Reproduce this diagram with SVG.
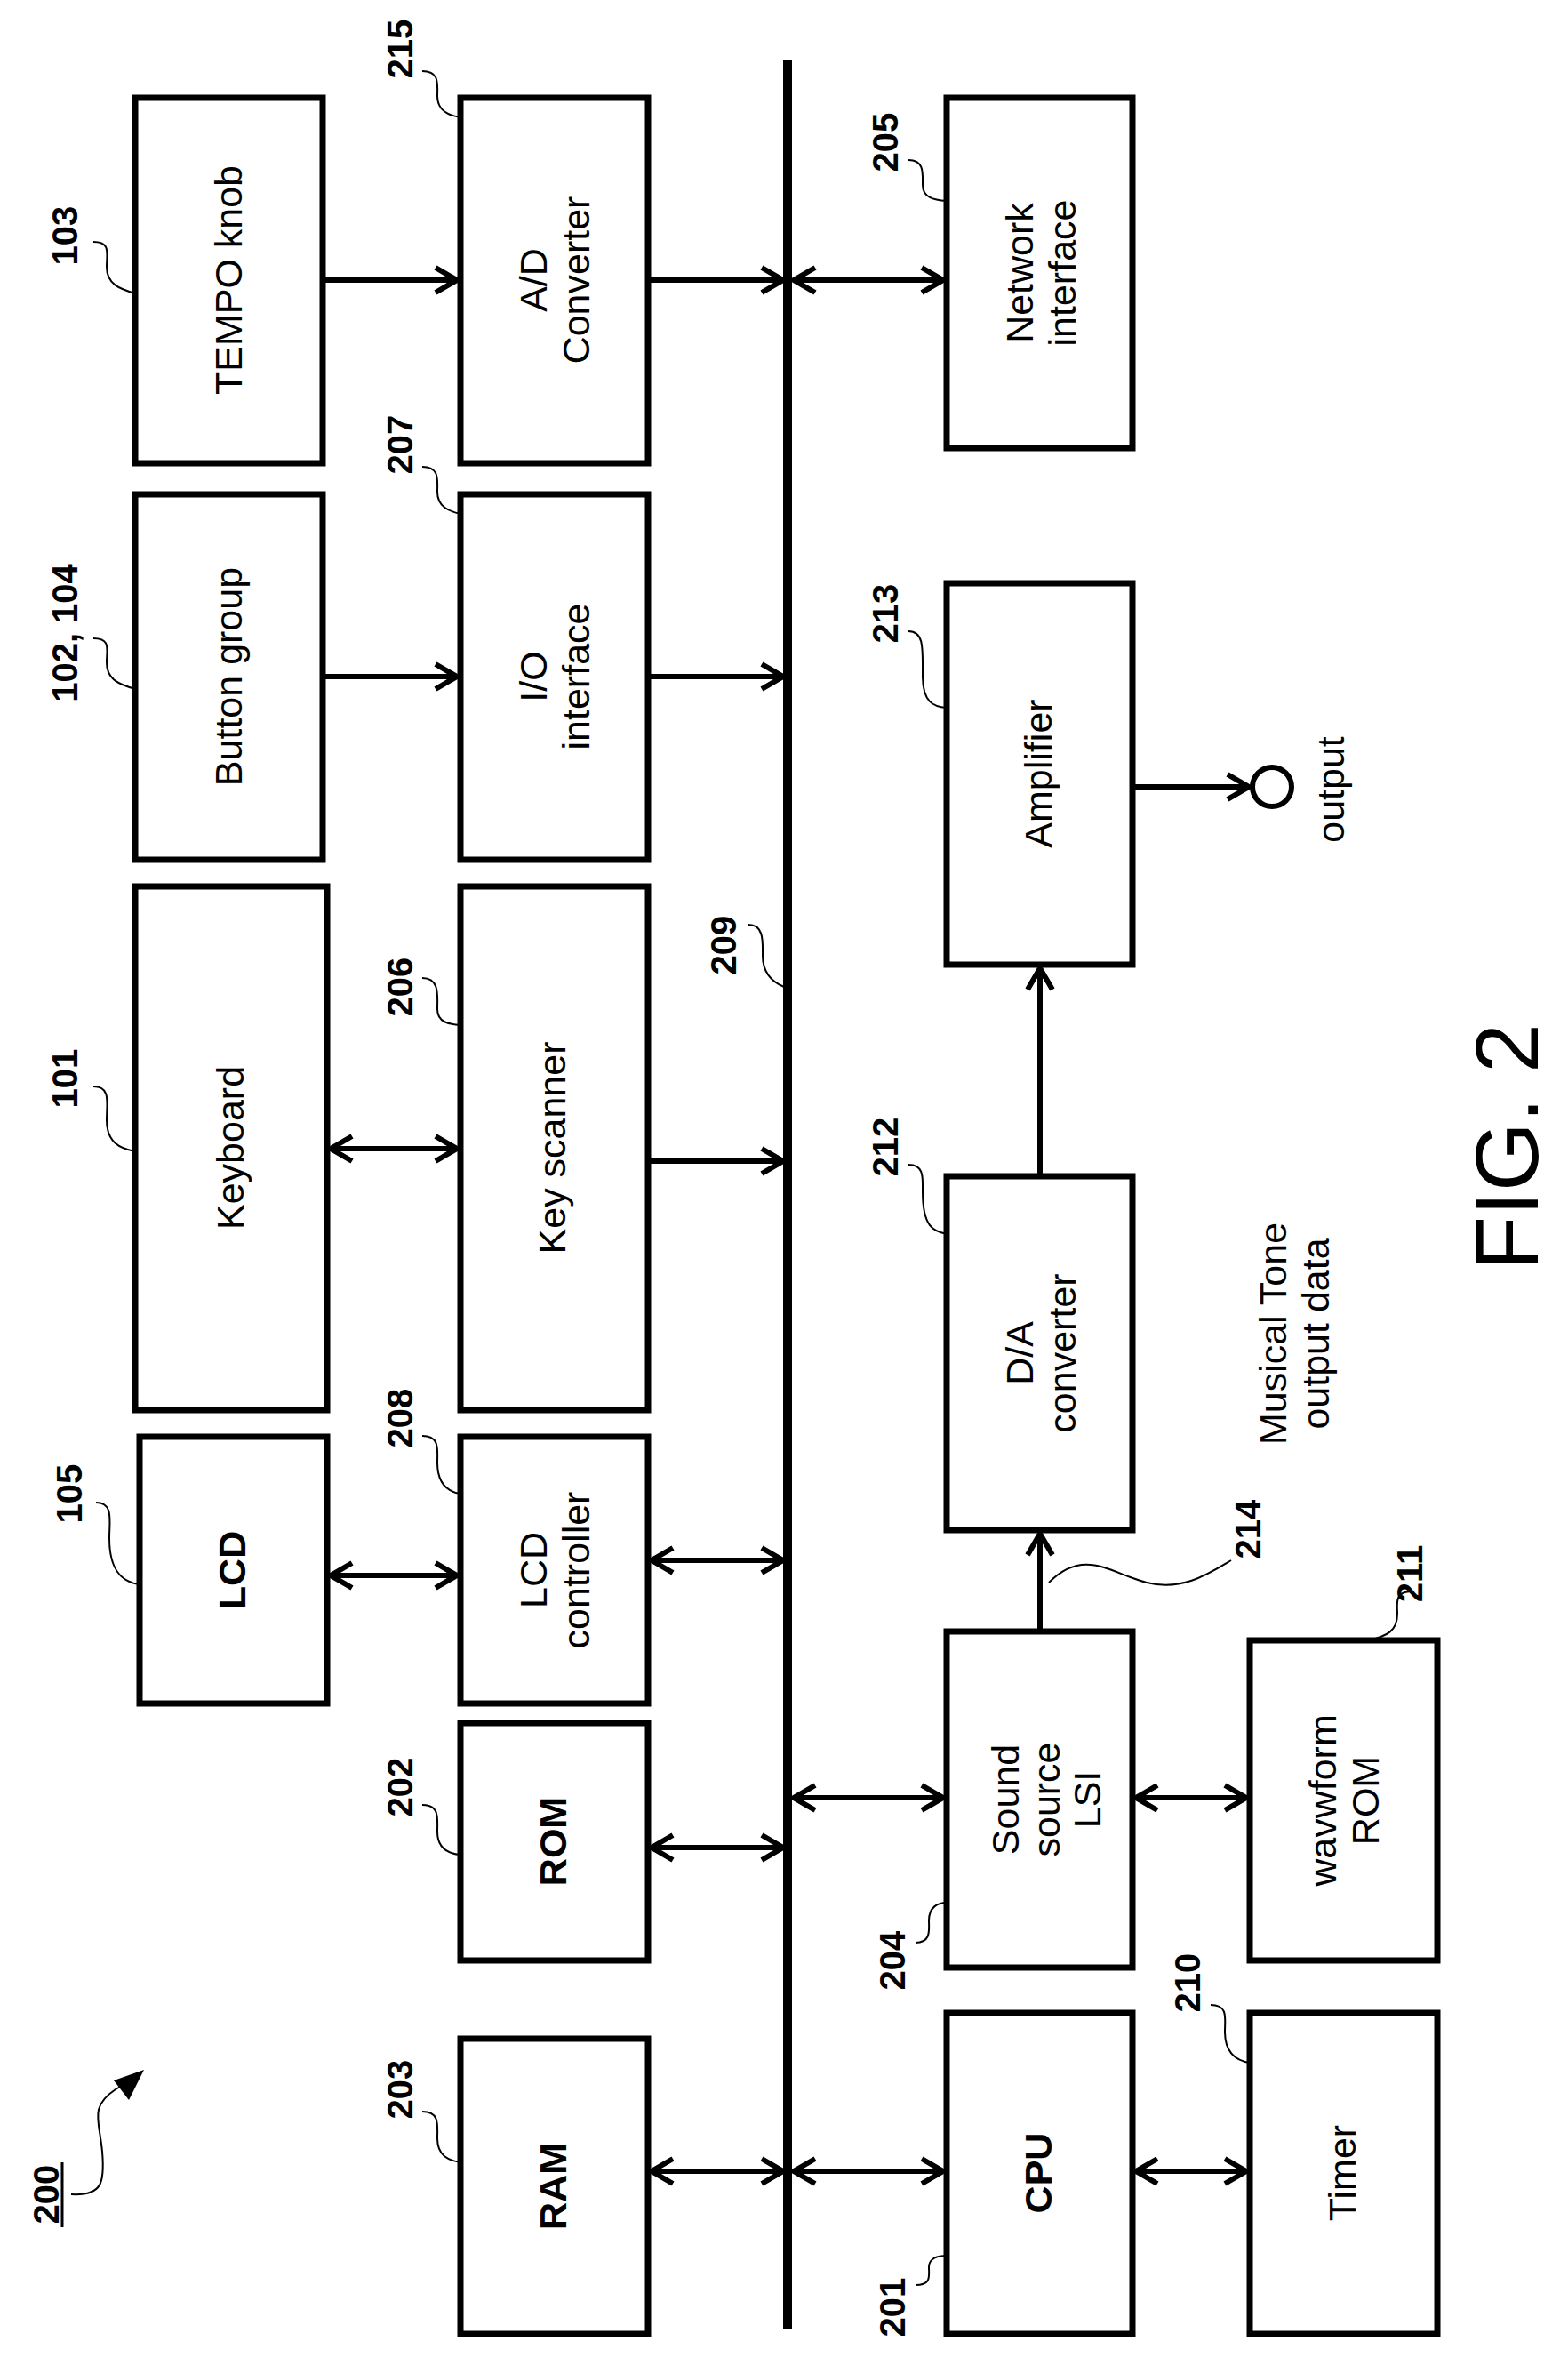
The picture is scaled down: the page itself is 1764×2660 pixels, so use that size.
<svg xmlns="http://www.w3.org/2000/svg" width="1764" height="2660" viewBox="0 0 1764 2660">
<style>
.box{fill:#fff;stroke:#000;stroke-width:7}
.t{font-family:"Liberation Sans",Arial,sans-serif;font-size:43px;text-anchor:middle;fill:#000}
.b{font-weight:bold}
.n{font-family:"Liberation Sans Narrow","Liberation Sans",sans-serif;font-size:40px;font-weight:bold;text-anchor:middle;fill:#000}
.c{stroke:#000;stroke-width:6;fill:none}
.one{marker-end:url(#ah)}
.two{marker-end:url(#ah);marker-start:url(#ah)}
.ld{stroke:#000;stroke-width:2;fill:none}
</style>
<defs>
<marker id="ah" viewBox="0 0 20 20" refX="18" refY="10" markerWidth="20" markerHeight="20" markerUnits="userSpaceOnUse" orient="auto-start-reverse" overflow="visible">
<path d="M-6,-4 L18,10 L-6,24" fill="none" stroke="#000" stroke-width="6"/>
</marker>
</defs>
<g id="bus"><line x1="886" y1="68" x2="886" y2="2620" stroke="#000" stroke-width="10"/></g>
<g id="n103"><rect class="box" x="152" y="110" width="211" height="411"/><text class="t" transform="translate(272,315) rotate(-90)">TEMPO knob</text></g>
<g id="n215"><rect class="box" x="518" y="110" width="211" height="411"/><text class="t" transform="translate(623,315) rotate(-90)"><tspan x="0" y="-8">A/D</tspan><tspan x="0" y="40">Converter</tspan></text></g>
<g id="n205"><rect class="box" x="1065" y="110" width="209" height="394"/><text class="t" transform="translate(1170,307) rotate(-90)"><tspan x="0" y="-8">Network</tspan><tspan x="0" y="40">interface</tspan></text></g>
<g id="n102"><rect class="box" x="152" y="556" width="211" height="411"/><text class="t" transform="translate(272,761) rotate(-90)">Button group</text></g>
<g id="n207"><rect class="box" x="518" y="556" width="211" height="411"/><text class="t" transform="translate(623,761) rotate(-90)"><tspan x="0" y="-8">I/O</tspan><tspan x="0" y="40">interface</tspan></text></g>
<g id="n213"><rect class="box" x="1065" y="656" width="209" height="429"/><text class="t" transform="translate(1183,870) rotate(-90)">Amplifier</text></g>
<g id="n101"><rect class="box" x="152" y="997" width="216" height="589"/><text class="t" transform="translate(274,1291) rotate(-90)">Keyboard</text></g>
<g id="n206"><rect class="box" x="518" y="997" width="211" height="589"/><text class="t" transform="translate(636,1291) rotate(-90)">Key scanner</text></g>
<g id="n212"><rect class="box" x="1065" y="1323" width="209" height="398"/><text class="t" transform="translate(1170,1522) rotate(-90)"><tspan x="0" y="-8">D/A</tspan><tspan x="0" y="40">converter</tspan></text></g>
<g id="n105"><rect class="box" x="157" y="1616" width="211" height="300"/><text class="t b" transform="translate(276,1766) rotate(-90)">LCD</text></g>
<g id="n208"><rect class="box" x="518" y="1616" width="211" height="300"/><text class="t" transform="translate(623,1766) rotate(-90)"><tspan x="0" y="-8">LCD</tspan><tspan x="0" y="40">controller</tspan></text></g>
<g id="n202"><rect class="box" x="518" y="1938" width="211" height="267"/><text class="t b" transform="translate(637,2071) rotate(-90)">ROM</text></g>
<g id="n203"><rect class="box" x="518" y="2293" width="211" height="332"/><text class="t b" transform="translate(637,2459) rotate(-90)">RAM</text></g>
<g id="n204"><rect class="box" x="1065" y="1835" width="209" height="378"/><text class="t" transform="translate(1160,2024) rotate(-90)"><tspan x="0" y="-14">Sound</tspan><tspan x="0" y="32">source</tspan><tspan x="0" y="78">LSI</tspan></text></g>
<g id="n211"><rect class="box" x="1406" y="1845" width="211" height="360"/><text class="t" transform="translate(1511,2025) rotate(-90)"><tspan x="0" y="-8">wavwform</tspan><tspan x="0" y="40">ROM</tspan></text></g>
<g id="n201"><rect class="box" x="1065" y="2264" width="209" height="361"/><text class="t b" transform="translate(1183,2444) rotate(-90)">CPU</text></g>
<g id="n210"><rect class="box" x="1406" y="2264" width="211" height="361"/><text class="t" transform="translate(1525,2444) rotate(-90)">Timer</text></g>
<g id="out"><circle cx="1431" cy="885" r="22" fill="#fff" stroke="#000" stroke-width="6"/><text class="t" transform="translate(1512,888) rotate(-90)">output</text></g>
<g id="connectors">
<line class="c one" x1="363" y1="315" x2="514" y2="315"/>
<line class="c one" x1="729" y1="315" x2="881" y2="315"/>
<line class="c two" x1="893" y1="315" x2="1061" y2="315"/>
<line class="c one" x1="363" y1="761" x2="514" y2="761"/>
<line class="c one" x1="729" y1="761" x2="881" y2="761"/>
<line class="c two" x1="372" y1="1292" x2="514" y2="1292"/>
<line class="c one" x1="729" y1="1306" x2="881" y2="1306"/>
<line class="c two" x1="372" y1="1772" x2="514" y2="1772"/>
<line class="c two" x1="733" y1="1755" x2="881" y2="1755"/>
<line class="c two" x1="733" y1="2078" x2="881" y2="2078"/>
<line class="c two" x1="733" y1="2442" x2="881" y2="2442"/>
<line class="c two" x1="893" y1="2442" x2="1061" y2="2442"/>
<line class="c two" x1="1278" y1="2442" x2="1402" y2="2442"/>
<line class="c two" x1="893" y1="2022" x2="1061" y2="2022"/>
<line class="c two" x1="1278" y1="2022" x2="1402" y2="2022"/>
<line class="c one" x1="1170" y1="1835" x2="1170" y2="1725"/>
<line class="c one" x1="1170" y1="1323" x2="1170" y2="1089"/>
<line class="c one" x1="1274" y1="885" x2="1405" y2="885"/>
<path class="ld" d="M80,2468 C115,2470 118,2455 115,2420 C112,2385 100,2370 130,2350 L148,2340"/>
<path d="M162,2328 L128,2340 L145,2362 Z" fill="#000"/>
</g>
<g id="labels">
<text class="n" transform="translate(87,265) rotate(-90)">103</text><path class="ld" d="M105,272 C125,272 120,285 120,300 C120,320 135,325 152,330"/>
<text class="n" transform="translate(464,55) rotate(-90)">215</text><path class="ld" d="M475,80 C495,80 492,95 492,108 C492,125 505,130 518,132"/>
<text class="n" transform="translate(1010,160) rotate(-90)">205</text><path class="ld" d="M1022,180 C1040,180 1038,195 1038,208 C1038,222 1050,225 1065,226"/>
<text class="n" transform="translate(87,712) rotate(-90)">102, 104</text><path class="ld" d="M105,718 C125,718 120,730 120,745 C120,765 135,770 152,775"/>
<text class="n" transform="translate(464,500) rotate(-90)">207</text><path class="ld" d="M475,525 C495,525 492,540 492,553 C492,570 505,575 518,578"/>
<text class="n" transform="translate(1010,690) rotate(-90)">213</text><path class="ld" d="M1022,710 C1040,710 1038,730 1038,760 C1038,790 1050,795 1065,796"/>
<text class="n" transform="translate(87,1213) rotate(-90)">101</text><path class="ld" d="M105,1222 C125,1222 120,1240 120,1260 C120,1285 135,1292 152,1295"/>
<text class="n" transform="translate(464,1110) rotate(-90)">206</text><path class="ld" d="M475,1100 C495,1100 492,1120 492,1135 C492,1150 505,1152 518,1153"/>
<text class="n" transform="translate(828,1063) rotate(-90)">209</text><path class="ld" d="M842,1040 C860,1040 858,1060 858,1075 C858,1095 870,1105 882,1110"/>
<text class="n" transform="translate(1010,1290) rotate(-90)">212</text><path class="ld" d="M1022,1310 C1040,1310 1038,1325 1038,1340 C1038,1380 1050,1385 1065,1388"/>
<text class="n" transform="translate(92,1680) rotate(-90)">105</text><path class="ld" d="M108,1690 C128,1690 123,1710 123,1730 C123,1770 140,1780 157,1782"/>
<text class="n" transform="translate(464,1595) rotate(-90)">208</text><path class="ld" d="M475,1615 C495,1615 492,1630 492,1645 C492,1670 505,1678 518,1680"/>
<text class="n" transform="translate(464,2010) rotate(-90)">202</text><path class="ld" d="M475,2030 C495,2030 492,2045 492,2060 C492,2080 505,2085 518,2086"/>
<text class="n" transform="translate(464,2350) rotate(-90)">203</text><path class="ld" d="M475,2375 C495,2375 492,2390 492,2405 C492,2425 505,2430 518,2432"/>
<text class="n" transform="translate(1018,2595) rotate(-90)">201</text><path class="ld" d="M1030,2570 C1048,2570 1045,2560 1045,2550 C1045,2540 1055,2537 1065,2537"/>
<text class="n" transform="translate(1018,2205) rotate(-90)">204</text><path class="ld" d="M1030,2185 C1048,2185 1045,2170 1045,2160 C1045,2145 1055,2140 1065,2140"/>
<text class="n" transform="translate(1350,2230) rotate(-90)">210</text><path class="ld" d="M1362,2255 C1382,2255 1378,2270 1378,2285 C1378,2310 1392,2318 1406,2320"/>
<text class="n" transform="translate(1600,1770) rotate(-90)">211</text><path class="ld" d="M1588,1790 C1568,1790 1572,1805 1572,1815 C1572,1835 1560,1840 1540,1845"/>
<text class="n" transform="translate(1418,1720) rotate(-90)">214</text><path class="ld" d="M1180,1780 C1220,1740 1250,1770 1290,1780 C1330,1790 1360,1770 1385,1755"/>
<text class="t" transform="translate(1455,1500) rotate(-90)"><tspan x="0" y="-8">Musical Tone</tspan><tspan x="0" y="40">output data</tspan></text>
<text class="t" style="font-size:100px" transform="translate(1730,1290) rotate(-90)">FIG. 2</text>
<text class="n" transform="translate(66,2468) rotate(-90)">200</text><line x1="70" y1="2432" x2="70" y2="2505" stroke="#000" stroke-width="3"/>
</g>
</svg>
